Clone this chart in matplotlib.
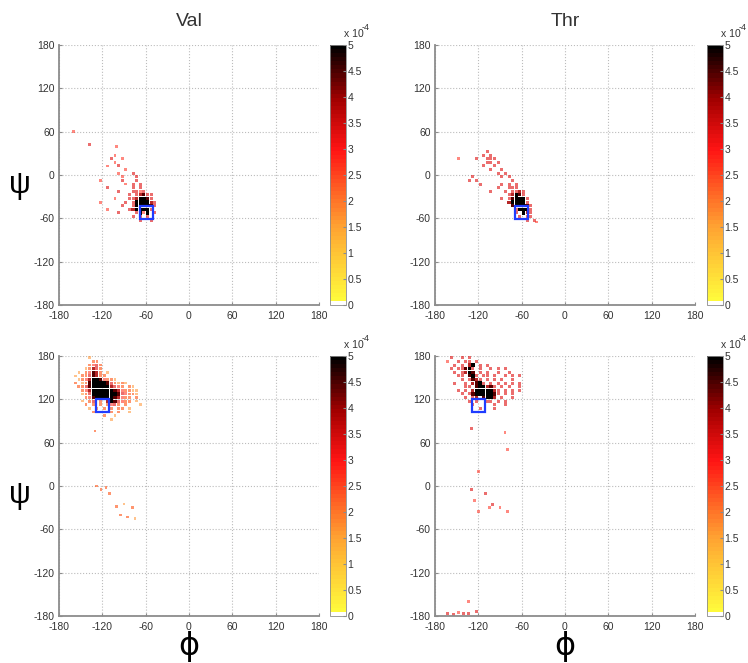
import matplotlib
matplotlib.use("Agg")
import matplotlib.pyplot as plt
import numpy as np
from matplotlib.colors import LinearSegmentedColormap, ListedColormap, Normalize
from matplotlib.cm import ScalarMappable
from matplotlib.patches import Rectangle

plt.rcParams['font.family'] = ['Liberation Sans', 'DejaVu Sans']
plt.rcParams['axes.unicode_minus'] = False

# ---- data: 5-degree density cells, digits 1-9 = density level, '.' = empty ----
# level k -> k * 5/9 (x 1e-4)
ticks = [-180, -120, -60, 0, 60, 120, 180]
cbar_ticks = [0, 0.5, 1, 1.5, 2, 2.5, 3, 3.5, 4, 4.5, 5]
cbar_labels = ['0', '0.5', '1', '1.5', '2', '2.5', '3', '3.5', '4', '4.5', '5']
titles = ['Val', 'Thr']

# top-left: Val, helix region (grid starts at phi=-145, psi top=50)
val_top_origin = (-145, 50)
val_top_grid = [
    ".....................",
    ".6...................",
    ".....................",
    ".....................",
    "........5............",
    ".......6..5..........",
    "........5............",
    "......5..6...........",
    "...........5.........",
    ".........5...6.......",
    "..........5...6......",
    "....5.....6...6......",
    "...........5.6.6.....",
    "......6......6.6.....",
    ".........6...6656....",
    "............6.67866..",
    "........5...6679986..",
    "....5......6.6999976.",
    "..........6..6999986.",
    "......5.....6799996..",
    ".........6....6959.6.",
    ".............6.6.6...",
    "...............6..6..",
    ".....................",
]
val_top_sparse = [(-160, 60, 5), (-100, 40, 5)]

# top-right: Thr, helix region (grid starts at phi=-170, psi top=45)
thr_top_origin = (-170, 45)
thr_top_grid = [
    "..........................",
    "..........................",
    "............6.............",
    "...........6.6............",
    "....5....6..666...........",
    "............66.6..........",
    "...........6..6...........",
    ".............6..6.........",
    "...............6.6........",
    "........6.......6.6.......",
    ".......6.6.........6......",
    "..........6.....6.6.6.....",
    "...............6..666.....",
    ".............6...6.6676...",
    "..................67986...",
    "................6.689996..",
    "..................799996..",
    "...................899986.",
    "....................69996.",
    "....................6.976.",
    ".....................6.66.",
    ".......................6.6",
    "..........................",
]
thr_top_sparse = [(-40, -65, 5)]

# bottom-left: Val, beta region (grid starts at phi=-170, psi top=180)
val_bot_origin = (-170, 180)
val_bot_grid = [
    "......3...............",
    ".......44.............",
    "......4564............",
    ".....34764............",
    "...3.45874.3..........",
    "..3.4468744...........",
    "...34579985443........",
    "..4.3489999864343.....",
    "...4468999997654.43...",
    "....4579999998754433..",
    "....3469999999865443..",
    ".....4589999987544.4..",
    "....3.46.4.7986544.3..",
    ".....4.4.4.4564.4...3.",
    "......3.4.4.4.44.3....",
    ".......4..3.4.4..3....",
    "..........4..3........",
    "............3.........",
]
val_bot_sparse = [(-130, 76, 4), (-128, 0, 4), (-122, -5, 4), (-115, -2, 4),
                  (-110, -10, 4), (-100, -28, 4), (-95, -40, 4), (-85, -43, 4),
                  (-78, -30, 4), (-75, -45, 3), (-90, -25, 3)]

# bottom-right: Thr, beta region (grid starts at phi=-170, psi top=180)
thr_bot_origin = (-170, 180)
thr_bot_grid = [
    "..6..6.6................",
    ".5..6.66.6..............",
    "...6.6.79.6.6...........",
    "..6.66896.6..6.6.6......",
    "...6.6798.6.6..6..6.....",
    "....66.896.66.6..6.6.6..",
    ".....6.6876.6.6.6..6....",
    "...6..6.7896.6.6.6.6.6..",
    "......66.899786.6.6..6..",
    "....6.6.79999976.6.6.6..",
    ".....6.689999986.6.6....",
    "......6.67.8997.6..6....",
    ".......6.6..66.6.6......",
    "........6.....6..6......",
    "..........6...6.........",
    "........................",
]
thr_bot_sparse = [(-129, 80, 6), (-83, 74, 5), (-120, 20, 5), (-80, 50, 5),
                  (-130, -5, 6), (-125, -20, 5), (-110, -10, 6), (-100, -25, 6),
                  (-90, -30, 5), (-80, -35, 5), (-120, -35, 5), (-105, -30, 5),
                  (-163, -176, 6), (-155, -178, 6), (-148, -175, 5), (-140, -177, 6),
                  (-133, -176, 6), (-134, -160, 5), (-122, -174, 6)]

# reference conformations (blue boxes): centre phi, psi
box_phi = [-59, -60, -120, -120]
box_psi = [-52, -52, 112, 112]
box_half = 9


def build_points(origin, grid, sparse):
    phi0, psi_top = origin
    phis, psis, lvls = [], [], []
    for j, row in enumerate(grid):
        for i, ch in enumerate(row):
            if ch != '.':
                phis.append(phi0 + 5 * i + 2.5)
                psis.append(psi_top - 5 * j - 2.5)
                lvls.append(int(ch))
    for phi, psi, lvl in sparse:
        phis.append(phi)
        psis.append(psi)
        lvls.append(lvl)
    return np.array(phis), np.array(psis), np.array(lvls)


panels = [
    build_points(val_top_origin, val_top_grid, val_top_sparse),
    build_points(thr_top_origin, thr_top_grid, thr_top_sparse),
    build_points(val_bot_origin, val_bot_grid, val_bot_sparse),
    build_points(thr_bot_origin, thr_bot_grid, thr_bot_sparse),
]

base = LinearSegmentedColormap.from_list(
    'yrk', [(0, '#ffff3c'), (0.3, '#ffa232'), (0.6, '#ff1414'),
            (0.8, '#a00000'), (1.0, '#000000')])
cols = base(np.linspace(0, 1, 64))
cols[0] = [1, 1, 1, 1]
cmap = ListedColormap(cols)
norm = Normalize(0, 5)
level_alpha = {1: .4, 2: .45, 3: .55, 4: .65, 5: .55, 6: .6, 7: .85, 8: 1, 9: 1}

W, H = 748, 663
fig = plt.figure(figsize=(W / 100, H / 100), dpi=100)

lefts = [59, 435]
tops = [45, 356]
cb_lefts = [330, 707]
size = 260

for k, (phi, psi, lvl) in enumerate(panels):
    row, col = divmod(k, 2)
    x0, y0 = lefts[col], tops[row]
    ax = fig.add_axes([x0 / W, (H - y0 - size) / H, size / W, size / H])
    rgba = cmap(norm(lvl * 5 / 9))
    rgba[:, 3] = [level_alpha[v] for v in lvl]
    ax.scatter(phi, psi, c=rgba, marker='s', s=2.5 + 0.35 * lvl,
               linewidths=0, zorder=2)
    ax.add_patch(Rectangle((box_phi[k] - box_half, box_psi[k] - box_half),
                           2 * box_half, 2 * box_half, fill=False,
                           edgecolor='#1f3cff', linewidth=1.6, zorder=3))
    ax.set_xlim(-180, 180)
    ax.set_ylim(-180, 180)
    ax.set_xticks(ticks)
    ax.set_yticks(ticks)
    ax.grid(True, linestyle=':', color='#bcbcbc', linewidth=0.8)
    ax.set_axisbelow(True)
    for s in ['top', 'right']:
        ax.spines[s].set_visible(False)
    for s in ['left', 'bottom']:
        ax.spines[s].set_color('#8c8c8c')
        ax.spines[s].set_linewidth(1.3)
    ax.tick_params(direction='in', length=2.5, color='#8c8c8c',
                   labelsize=7.5, labelcolor='#333333')
    ax.tick_params(axis='x', pad=4)
    ax.tick_params(axis='y', pad=3)

    cax = fig.add_axes([cb_lefts[col] / W, (H - y0 - size) / H, 16 / W, size / H])
    cb = fig.colorbar(ScalarMappable(norm=norm, cmap=cmap), cax=cax, ticks=cbar_ticks)
    cb.ax.set_yticklabels(cbar_labels)
    cb.ax.tick_params(direction='in', length=2, color='#8c8c8c',
                      labelsize=7.5, labelcolor='#333333', pad=1)
    cb.outline.set_edgecolor('#8c8c8c')
    cb.outline.set_linewidth(0.6)
    cax.text(0.85, 1.022, 'x 10', transform=cax.transAxes, fontsize=7.5,
             color='#333333', ha='left', va='bottom')
    cax.text(1.95, 1.05, '-4', transform=cax.transAxes, fontsize=6.5,
             color='#333333', ha='left', va='bottom')

for col, t in enumerate(titles):
    fig.text((lefts[col] + size / 2) / W, 1 - 22 / H, t, fontsize=14,
             color='#333333', ha='center', va='center')
for y in [185, 495]:
    fig.text(20 / W, 1 - y / H, 'ψ', fontsize=22, ha='center', va='center')
for col in range(2):
    fig.text((lefts[col] + size / 2) / W, 1 - 647 / H, 'ϕ', fontsize=23,
             ha='center', va='center', family=['DejaVu Sans'])

fig.savefig('out.png', dpi=100)
